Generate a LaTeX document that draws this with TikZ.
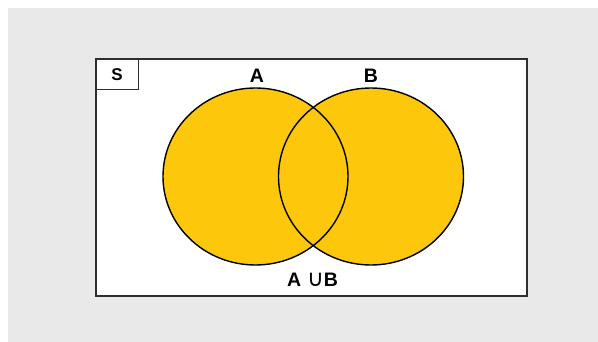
\documentclass[tikz,border=0pt]{standalone}
\usepackage{fontspec}
\setmainfont{Liberation Sans}
\newfontfamily\symfont{DejaVu Sans}
\definecolor{bggray}{HTML}{E9E9E9}
\definecolor{vennyellow}{HTML}{FDC70C}
\definecolor{frame}{HTML}{2E2E2E}
\tikzset{
  setcircle/.style={fill=vennyellow},
  setoutline/.style={draw=black,line width=1.4pt},
  lbl/.style={font=\bfseries\fontsize{19.5}{19.5}\selectfont,inner sep=0pt},
}
\begin{document}
\begin{tikzpicture}[x=1pt,y=-1pt]
\useasboundingbox (0,0) rectangle (598,342);
\fill[white] (0,0) rectangle (598,342);
\fill[bggray] (8,8) rectangle (598,342);
\node[draw=frame,line width=1.8pt,fill=white,minimum width=431pt,minimum height=237pt,inner sep=0pt,anchor=north west] (S) at (95,58) {};
\node[draw=frame,line width=1.3pt,minimum width=43pt,minimum height=31pt,inner sep=0pt,anchor=north west,font=\bfseries\fontsize{17}{17}\selectfont] (Sbox) at (95,58) {S};
\fill[setcircle] (255.5,176.5) ellipse [x radius=92.5, y radius=88.5];
\fill[setcircle] (371,176.5) ellipse [x radius=92.5, y radius=88.5];
\draw[setoutline] (255.5,176.5) ellipse [x radius=92.5, y radius=88.5];
\draw[setoutline] (371,176.5) ellipse [x radius=92.5, y radius=88.5];
\node[lbl] (la) at (257,76) {A};
\node[lbl] (lb) at (371,76) {B};
\node[lbl] (lu) at (312.5,279.5) {A\hspace{6pt}{\mdseries\symfont\fontsize{23}{23}\selectfont ∪}B};
\end{tikzpicture}
\end{document}
